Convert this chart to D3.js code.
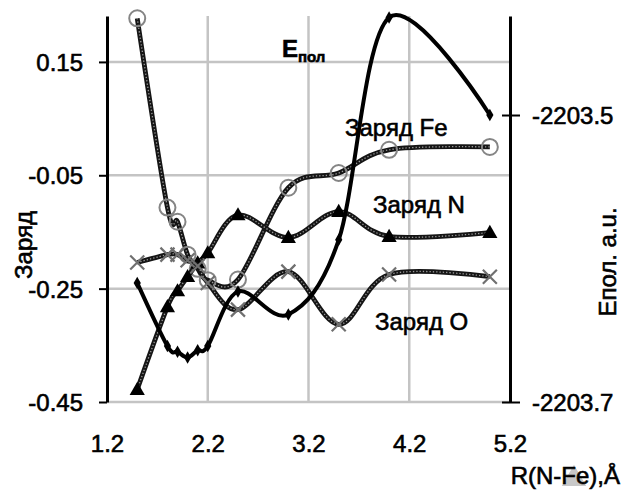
<!DOCTYPE html>
<html>
<head>
<meta charset="utf-8">
<script src="https://cdn.jsdelivr.net/npm/d3@7"></script>
<style>
  body{margin:0;background:#fff;}
  svg text{font-family:"Liberation Sans",Arial,sans-serif;fill:#000;stroke:#000;stroke-width:0.6px;}
</style>
</head>
<body>
<div class="chart-container"></div>
<script>
//Data
const rValues   =[1.5, 1.8, 1.9, 2.0, 2.1, 2.2, 2.5, 3.0, 3.5, 4.0, 5.0];
const chargeFe  =[0.227,-0.107,-0.132,-0.19,-0.215,-0.235,-0.234,-0.072,-0.046,-0.005,0.0];
const chargeN   =[-0.428,-0.282,-0.254,-0.229,-0.205,-0.187,-0.12,-0.16,-0.114,-0.158,-0.151];
const chargeO   =[-0.204,-0.19,-0.19,-0.2,-0.21,-0.24,-0.287,-0.22,-0.313,-0.225,-0.229];
const ePol      =[-2203.617,-2203.661,-2203.665,-2203.669,-2203.664,-2203.661,-2203.623,-2203.639,-2203.587,-2203.432,-2203.5];

const xTicks    =[1.2,2.2,3.2,4.2,5.2];
const yLeftTicks=[0.15,-0.05,-0.25,-0.45];
const yRightTicks=[-2203.5,-2203.7];

const toPoints =vals=>rValues.map((r,i)=>({r:r,v:vals[i]}));
//Excel keeps a plain hyphen for negatives
const fmt =spec=>d=>d3.format(spec)(d).replace('\u2212','-');

function setupCanvas(){
  const svg_width=629;
  const svg_height=490;
  const plot={left:107,right:510,top:16,bottom:402};

  const svg=d3.select('.chart-container').append('svg')
    .attr('width',svg_width).attr('height',svg_height);
  svg.append('rect').attr('width',svg_width).attr('height',svg_height).attr('fill','#fff');

  const xScale=d3.scaleLinear().domain([1.2,5.2]).range([plot.left,plot.right]);
  const yLeft=d3.scaleLinear().domain([-0.45,0.231]).range([plot.bottom,plot.top]);
  const yRight=d3.scaleLinear().domain([-2203.7,-2203.431]).range([plot.bottom,plot.top]);

  //grid
  const grid=svg.append('g').attr('class','grid');
  grid.selectAll('.vgrid').data(xTicks.slice(1,-1)).enter().append('line')
      .attr('x1',d=>xScale(d)).attr('x2',d=>xScale(d))
      .attr('y1',plot.top).attr('y2',plot.bottom)
      .attr('stroke','#c4c4c4').attr('stroke-width',2.5);
  grid.selectAll('.hgrid').data(yLeftTicks).enter().append('line')
      .attr('x1',plot.left).attr('x2',plot.right)
      .attr('y1',d=>yLeft(d)).attr('y2',d=>yLeft(d))
      .attr('stroke','#c4c4c4').attr('stroke-width',2.5);

  //x axis labels
  const xAxis=d3.axisBottom(xScale).tickValues(xTicks).tickSize(0).tickFormat(fmt('.1f'));
  const xAxisDraw=svg.append('g').attr('transform',`translate(0,${plot.bottom})`).call(xAxis);
  xAxisDraw.select('.domain').remove();
  xAxisDraw.selectAll('text').attr('dy',0).attr('y',50).style('font-size','24px');

  //left axis
  const yAxisL=d3.axisLeft(yLeft).tickValues(yLeftTicks).tickSizeInner(8).tickSizeOuter(0)
                 .tickFormat(fmt('.2f'));
  const yAxisLDraw=svg.append('g').attr('transform',`translate(${plot.left},0)`).call(yAxisL);
  yAxisLDraw.select('.domain').attr('stroke','#000').attr('stroke-width',3);
  yAxisLDraw.selectAll('line').attr('stroke','#000').attr('stroke-width',2);
  yAxisLDraw.selectAll('text').attr('x',-24).attr('dy','0.36em').style('font-size','24px');

  //right axis
  const yAxisR=d3.axisRight(yRight).tickValues(yRightTicks).tickSizeInner(10).tickSizeOuter(0)
                 .tickFormat(fmt('.1f'));
  const yAxisRDraw=svg.append('g').attr('transform',`translate(${plot.right},0)`).call(yAxisR);
  yAxisRDraw.select('.domain').attr('stroke','#000').attr('stroke-width',3);
  yAxisRDraw.selectAll('line').attr('x1',-8).attr('stroke','#000').attr('stroke-width',2);
  yAxisRDraw.selectAll('text').attr('x',22).attr('dy','0.36em').style('font-size','24px');

  //axis titles
  svg.append('text').attr('transform','translate(32,245) rotate(-90)')
     .attr('text-anchor','middle').style('font-size','24px').text('Заряд');
  svg.append('text').attr('transform','translate(616,262) rotate(-90)')
     .attr('text-anchor','middle').style('font-size','24px').text('Епол. a.u.');
  //stray grey marker in the source image, sits behind the x title
  svg.append('path').attr('d',d3.symbol(d3.symbolTriangle,260)())
     .attr('transform','translate(574,479)').attr('fill','#c8c8c8');
  svg.append('text').attr('x',620).attr('y',484).attr('text-anchor','end')
     .style('font-size','24px').text('R(N-Fe),Å');

  //series
  const line=(ys)=>d3.line().x(d=>xScale(d.r)).y(d=>ys(d.v)).curve(d3.curveCardinal.tension(0));

  function beadLine(vals){
    const data=toPoints(vals);
    const g=svg.append('g');
    g.append('path').datum(data).attr('d',line(yLeft)).attr('fill','none')
     .attr('stroke','#151515').attr('stroke-width',4.8);
    g.append('path').datum(data).attr('d',line(yLeft)).attr('fill','none')
     .attr('stroke','#9a9a9a').attr('stroke-width',1.3).attr('stroke-dasharray','1.3,2');
    return data;
  }

  const feData=beadLine(chargeFe);
  svg.selectAll('.fe').data(feData).enter().append('circle')
     .attr('cx',d=>xScale(d.r)).attr('cy',d=>yLeft(d.v)).attr('r',8)
     .attr('fill','none').attr('stroke','#858585').attr('stroke-width',2);

  const nData=beadLine(chargeN);
  svg.selectAll('.n').data(nData).enter().append('path')
     .attr('d',d3.symbol(d3.symbolTriangle,100)())
     .attr('transform',d=>`translate(${xScale(d.r)},${yLeft(d.v)+1})`)
     .attr('fill','#000');

  const oData=beadLine(chargeO);
  svg.selectAll('.o').data(oData).enter().append('path')
     .attr('d','M-7,-7L7,7M-7,7L7,-7')
     .attr('transform',d=>`translate(${xScale(d.r)},${yLeft(d.v)})`)
     .attr('stroke','#707070').attr('stroke-width',2.2).attr('fill','none');

  const eData=toPoints(ePol);
  svg.append('path').datum(eData).attr('d',line(yRight)).attr('fill','none')
     .attr('stroke','#000').attr('stroke-width',4);
  svg.selectAll('.e').data(eData).enter().append('path')
     .attr('d',d3.symbol(d3.symbolDiamond,45)())
     .attr('transform',d=>`translate(${xScale(d.r)},${yRight(d.v)})`)
     .attr('fill','#000');

  //series labels
  const lab=svg.append('text').attr('x',282).attr('y',57).style('font-size','24px').style('font-weight','bold');
  lab.append('tspan').text('E');
  lab.append('tspan').attr('dy',5).style('font-size','15px').text('пол');
  svg.append('text').attr('x',345).attr('y',136).style('font-size','24px').text('Заряд Fe');
  svg.append('text').attr('x',373).attr('y',213).style('font-size','24px').text('Заряд N');
  svg.append('text').attr('x',375).attr('y',330).style('font-size','24px').text('Заряд O');
}

setupCanvas();
</script>
</body>
</html>
